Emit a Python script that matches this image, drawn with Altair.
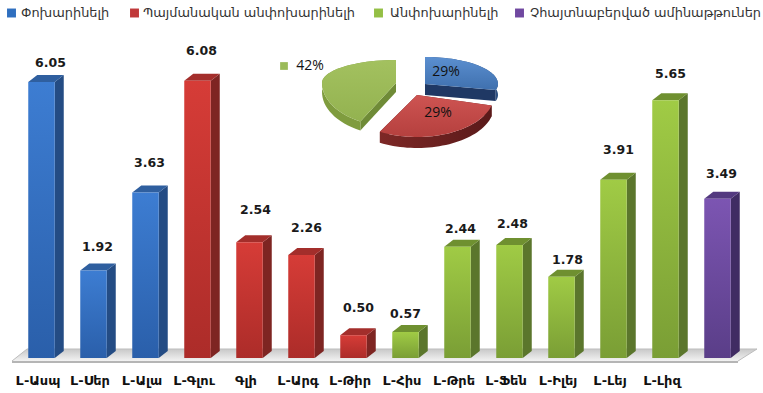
import altair as alt
import numpy as np
import pandas as pd

# Amino acid content per residue
categories = ["L-Ասպ", "L-Սեր", "L-Ալա", "L-Գլու", "Գլի", "L-Արգ", "L-Թիր",
              "L-Հիս", "L-Թրե", "L-Ֆեն", "L-Իլեյ", "L-Լեյ", "L-Լիզ", ""]
values = [6.05, 1.92, 3.63, 6.08, 2.54, 2.26, 0.50, 0.57, 2.44, 2.48, 1.78, 3.91, 5.65, 3.49]
value_text = ["6.05", "1.92", "3.63", "6.08", "2.54", "2.26", "0.50", "0.57", "2.44", "2.48", "1.78", "3.91", "5.65", "3.49"]
groups = [0, 0, 0, 1, 1, 1, 1, 2, 2, 2, 2, 2, 2, 3]
group_names = ["Փոխարինելի", "Պայմանական անփոխարինելի", "Անփոխարինելի", "Չհայտնաբերված ամինաթթուներ"]

# Share of the three classes in the inset pie
pie_shares = [29, 29, 42]
pie_labels = ["29%", "29%", "42%"]

# Face colours per group: front (light, dark), top, side
front_light = ["#3D7DD2", "#D63C37", "#A0CB45", "#7C55B2"]
front_dark = ["#2A5FAA", "#AC2C29", "#7A9E35", "#5A3E88"]
top_col = ["#2F5F9F", "#A32E2B", "#6F9030", "#53397F"]
side_col = ["#244C84", "#7E2522", "#5B762C", "#402C63"]

WIDTH, HEIGHT = 763, 393
SLOT, UNIT = 52.0, 45.6
ORIGIN_X, ORIGIN_Y = 41.5, 358.0
DX, DY = 9 / SLOT, 7 / UNIT
HALF = 13.25 / SLOT


def ux(px):
    return (np.asarray(px, dtype=float) - ORIGIN_X) / SLOT


def uy(py):
    return (ORIGIN_Y - np.asarray(py, dtype=float)) / UNIT


X_SCALE = alt.Scale(domain=[float(ux(0)), float(ux(WIDTH))], nice=False, zero=False)
Y_SCALE = alt.Scale(domain=[float(uy(HEIGHT)), float(uy(0))], nice=False, zero=False)
X = alt.X("x:Q", scale=X_SCALE, axis=None)
Y = alt.Y("y:Q", scale=Y_SCALE, axis=None)


def vgrad(c0, c1):
    return alt.Gradient(gradient="linear", x1=0, y1=0, x2=0, y2=1,
                        stops=[alt.GradientStop(color=c0, offset=0), alt.GradientStop(color=c1, offset=1)])


def hgrad(c0, c1):
    return alt.Gradient(gradient="linear", x1=0, y1=0, x2=1, y2=0,
                        stops=[alt.GradientStop(color=c0, offset=0), alt.GradientStop(color=c1, offset=1)])


def polygon(xs, ys, fill, stroke=None, sw=0.0):
    """Closed filled outline given in pixel positions."""
    d = pd.DataFrame({"x": ux(xs), "y": uy(ys), "k": np.arange(len(xs))})
    kw = {"fill": fill, "strokeWidth": sw}
    if stroke:
        kw["stroke"] = stroke
    else:
        kw["strokeOpacity"] = 0
    return alt.Chart(d).mark_line(**kw).encode(x=X, y=Y, order="k:Q")


layers = []

# Floor slab
layers.append(polygon([12, 738, 738, 12], [361, 361, 363, 363], "#B5B5B5"))
layers.append(polygon([12, 27, 757, 738], [361, 349, 349, 361], vgrad("#C8C8C8", "#F2F2F2"), "#BDBDBD", 1))

# 3D bars: side, top and front faces
for g in range(4):
    for i, (v, gi) in enumerate(zip(values, groups)):
        if gi != g:
            continue
        l, r = i - HALF, i + HALF
        side = pd.DataFrame({"x": [r, r + DX], "y": [v, v + DY], "y2": [0, DY]})
        top = pd.DataFrame({"x": [l, l + DX, r, r + DX],
                            "y": [v, v + DY, v + DY, v + DY],
                            "y2": [v, v, v, v + DY]})
        front = pd.DataFrame({"x": [l], "x2": [r], "y": [v], "y2": [0]})
        layers.append(alt.Chart(side).mark_area(fill=side_col[g]).encode(x=X, y=Y, y2="y2:Q"))
        layers.append(alt.Chart(top).mark_area(fill=top_col[g]).encode(x=X, y=Y, y2="y2:Q"))
        layers.append(alt.Chart(front).mark_rect(fill=vgrad(front_light[g], front_dark[g])).encode(x=X, x2="x2:Q", y=Y, y2="y2:Q"))

# Value labels sit at hand-tuned distances above each bar
lift = [19, 23, 29, 30, 32, 27, 27, 18, 18, 21, 17, 30, 26, 25]
shift = [9, 4, 4, 4, 6, 5, 5, 0, 3, 3, 6, 5, 5, 4]
labels = pd.DataFrame({"x": np.arange(14) + np.array(shift) / SLOT,
                       "y": np.array(values) + np.array(lift) / UNIT,
                       "t": value_text})
layers.append(alt.Chart(labels).mark_text(font="DejaVu Sans", fontWeight="bold", fontSize=12.5, color="#1a1a1a")
              .encode(x=X, y=Y, text="t:N"))

# Category names under the floor
cats = pd.DataFrame({"x": np.arange(14) - 3.5 / SLOT, "y": float(uy(381)), "t": categories})
layers.append(alt.Chart(cats[cats.t != ""]).mark_text(font="DejaVu Sans", fontWeight="bold", fontSize=13, color="#111111")
              .encode(x=X, y=Y, text="t:N"))

# Legend row
legend_sq = [7, 130, 374, 515]
legend_tx = [21, 143, 390, 530]
sq = pd.DataFrame({"x": ux(np.array(legend_sq) + 4.5), "y": float(uy(13)), "c": group_names})
layers.append(alt.Chart(sq).mark_point(shape="square", filled=True, size=80, opacity=1).encode(
    x=X, y=Y, color=alt.Color("c:N", legend=None, scale=alt.Scale(domain=group_names, range=["#2F6FBF", "#C0393A", "#94BF45", "#7048A0"]))))
tx = pd.DataFrame({"x": ux(legend_tx), "y": float(uy(13)), "t": group_names})
layers.append(alt.Chart(tx).mark_text(font="DejaVu Sans", fontSize=12.9, align="left", color="#333333").encode(x=X, y=Y, text="t:N"))


# Exploded pie built from the class shares
def pie_points(a0, a1, cx, cy, rx, back, front_r, n=40):
    t = np.radians(np.linspace(a0, a1, n))
    c = np.cos(t)
    return cx + rx * np.sin(t), cy - np.where(c > 0, back, front_r) * c


edges = np.cumsum([0] + pie_shares) * 3.6
pie = [
    dict(c=(425, 84), rx=73, back=27, front=24, h=11, top=("#5B8FD0", "#3F70AE"), arc="#2C4F80", cut="#1F3864"),
    dict(c=(417, 95), rx=77, back=27, front=42, h=11, top=("#CE5452", "#B5403E"), arc=("#7D2826", "#5A1A1A"), cut="#6E2220"),
    dict(c=(396, 83), rx=74, back=23, front=44, h=9, top=("#A3C15F", "#93B250"), arc="#7F9C3E", cut="#6F8B37"),
]
for idx in (2, 0, 1):
    p = pie[idx]
    cx, cy = p["c"]
    ax, ay = pie_points(edges[idx], edges[idx + 1], cx, cy, p["rx"], p["back"], p["front"])
    h = p["h"]
    # radial cut faces
    for ex, ey in ((ax[0], ay[0]), (ax[-1], ay[-1])):
        layers.append(polygon([cx, ex, ex, cx], [cy, ey, ey + h, cy + h], p["cut"]))
    # rim
    arc = p["arc"] if isinstance(p["arc"], str) else hgrad(*p["arc"])
    layers.append(polygon(np.r_[ax, ax[::-1]], np.r_[ay, ay[::-1] + h], arc))
    # top face
    layers.append(polygon(np.r_[cx, ax], np.r_[cy, ay], vgrad(*p["top"])))

pie_text = pd.DataFrame({"x": ux([446, 438, 310]), "y": uy([72, 113, 66]), "t": pie_labels})
layers.append(alt.Chart(pie_text).mark_text(font="Open Sans", fontSize=14, fontWeight=500, color="#111111").encode(x=X, y=Y, text="t:N"))
key = pd.DataFrame({"x": ux([284]), "y": uy([66])})
layers.append(alt.Chart(key).mark_point(shape="square", filled=True, size=60, color="#9BBB59", opacity=1).encode(x=X, y=Y))

chart = alt.layer(*layers).properties(
    width=WIDTH, height=HEIGHT, padding=0,
    autosize=alt.AutoSizeParams(type="none"), background="white",
).configure_view(stroke=None)

chart.save("out.html", embed_options={"renderer": "svg", "actions": False})
